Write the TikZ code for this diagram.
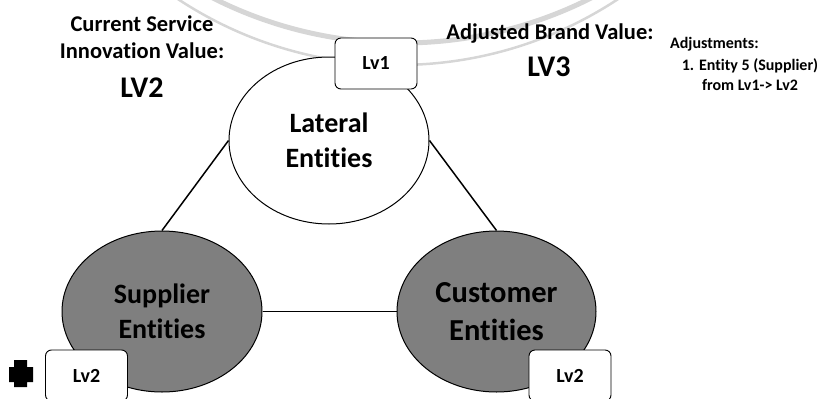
\documentclass[tikz,border=0pt]{standalone}
\usepackage{fontspec}
\setmainfont{Carlito}[Ligatures=NoCommon]
\usetikzlibrary{shapes.geometric}
\definecolor{ringgray}{HTML}{D6D6D6}
\definecolor{entgray}{HTML}{7F7F7F}
\begin{document}
\begin{tikzpicture}[x=1pt,y=-1pt,
  entity/.style={ellipse,draw=black,line width=1pt,inner sep=0pt,
    align=center,text=black},
  levelbox/.style={rectangle,rounded corners=6pt,draw=black,line width=0.9pt,
    fill=white,minimum width=82pt,minimum height=51pt,inner sep=0pt,
    font=\fontsize{20}{24}\selectfont\bfseries},
  link/.style={draw=black,line width=1.5pt},
  heading/.style={align=center,inner sep=0pt,
    font=\fontsize{22.5}{27}\selectfont\bfseries},
  bigval/.style={inner sep=0pt,font=\fontsize{30}{34}\selectfont\bfseries},
  note/.style={inner sep=0pt,font=\fontsize{16}{20}\selectfont\bfseries},
  ring/.style={draw=ringgray}]
\useasboundingbox (0,0) rectangle (825,399);

% background rings
\begin{scope}
  \clip (0,0) rectangle (825,399);
  \draw[ring,line width=5pt] (402,-376) circle[radius=419];
  \draw[ring,line width=2.5pt] (398,-335) circle[radius=400];
\end{scope}

% entity ellipses
\node[entity,fill=white,minimum width=200pt,minimum height=167pt,
  font=\fontsize{28}{35}\selectfont\bfseries] (lat) at (329,140.5) {Lateral\\Entities};
\node[entity,fill=entgray,minimum width=200pt,minimum height=161pt,
  font=\fontsize{28}{35}\selectfont\bfseries] (sup) at (162,311.5) {Supplier\\Entities};
\node[entity,fill=entgray,minimum width=199pt,minimum height=161pt,
  font=\fontsize{30.5}{38}\selectfont\bfseries] (cus) at (496.5,311.5) {Customer\\Entities};

% connectors
\draw[link] (lat.west) -- (sup.north);
\draw[link] (lat.east) -- (cus.north);
\draw[link] (sup.east) -- (cus.west);

% level boxes
\node[levelbox] (lv1) at (376,63.5) {Lv1};
\node[levelbox] (lvs) at (86.5,375.5) {Lv2};
\node[levelbox] (lvc) at (570,375.5) {Lv2};

% plus marker
\fill[black] (14,360) -- (27,360) -- (27,367) -- (33,367) -- (33,382) -- (27,382)
  -- (27,387) -- (14,387) -- (14,382) -- (9,382) -- (9,367) -- (14,367) -- cycle;

% value labels (base anchor = baseline of the last line)
\node[heading,anchor=base] (cur) at (142,58) {Current Service\\Innovation Value:};
\node[bigval,anchor=base] (cv) at (142,97) {LV2};
\node[heading,anchor=base] (adj) at (550,39) {Adjusted Brand Value:};
\node[bigval,anchor=base] (av) at (549,76) {LV3};

% adjustment notes
\node[note,anchor=base west] (nh) at (670,48) {Adjustments:};
\node[note,anchor=base,align=center] (n1) at (750,90) {1. Entity 5 (Supplier)\\from Lv1-> Lv2};
\end{tikzpicture}
\end{document}
